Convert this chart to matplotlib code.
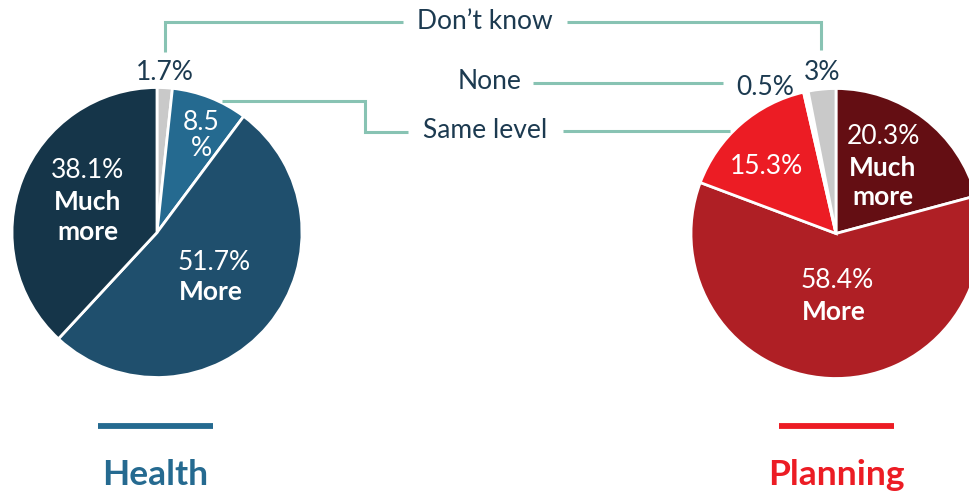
import matplotlib
matplotlib.use("Agg")
import matplotlib.pyplot as plt

# ---- data ----
categories = ["Don't know", "Same level", "More", "Much more"]
health_values = [1.7, 8.5, 51.7, 38.1]
health_labels = ["1.7%", "8.5\n%", "51.7%", "38.1%"]

planning_categories = ["Much more", "More", "Same level", "None", "Don't know"]
planning_values = [20.3, 58.4, 15.3, 0.5, 3.0]
planning_labels = ["20.3%", "58.4%", "15.3%", "0.5%", "3%"]

health_colors = ["#c9c9c9", "#256a90", "#1f4f6d", "#153549"]
planning_colors = ["#640e13", "#af1f25", "#ec1c24", "#ffffff", "#c9c9c9"]

W, H = 970, 495
plt.rcParams['font.family'] = ['Lato', 'DejaVu Sans']
fig = plt.figure(figsize=(W / 100, H / 100), dpi=100)
ax = fig.add_axes([0, 0, 1, 1])

def Y(y):
    return H - y

wp = dict(edgecolor="white", linewidth=2.0)
ax.pie(health_values, colors=health_colors, startangle=90, counterclock=False,
       center=(157, Y(232.5)), radius=145, wedgeprops=wp, normalize=True)
ax.pie(planning_values, colors=planning_colors, startangle=90, counterclock=False,
       center=(836, Y(233.5)), radius=145, wedgeprops=wp, normalize=True)

ax.set_xlim(0, W)
ax.set_ylim(0, H)
ax.set_aspect("equal")
ax.axis("off")

dark = "#1c3a50"
teal = "#88c3b3"
fs = 19

def txt(x, y, s, color="white", weight="normal", size=fs, **kw):
    ax.text(x, Y(y), s, color=color, fontsize=size, fontweight=weight,
            ha="center", va="center", **kw)

# Health labels
txt(165, 72, health_labels[0], color=dark)
txt(201, 123, "8.5")
txt(201, 148, "%")
txt(88, 170, health_labels[3])
txt(88, 202, "Much", weight="bold")
txt(88, 232, "more", weight="bold")
txt(214, 262, health_labels[2])
txt(211, 292, "More", weight="bold")

# Planning labels
txt(883, 137, planning_labels[0])
txt(883, 168, "Much", weight="bold")
txt(883, 197, "more", weight="bold")
txt(767, 167, planning_labels[2])
txt(837, 280, planning_labels[1])
txt(834, 312, "More", weight="bold")
txt(765, 87, planning_labels[3], color=dark)
txt(822, 72, planning_labels[4], color=dark)

# connectors
lw = 2.2
def line(xs, ys):
    ax.plot(xs, [Y(v) for v in ys], color=teal, lw=lw, solid_capstyle="butt",
            solid_joinstyle="miter")

line([165, 165, 403], [52, 22, 22])
line([567, 821, 821], [22, 22, 50])
txt(485, 21, "Don\u2019t know", color=dark)
line([533, 723], [83, 83])
txt(490, 81, "None", color=dark)
line([222, 365, 365, 408], [101, 101, 132, 132])
line([563, 730], [131, 131])
txt(485, 131, "Same level", color=dark)

# bottom bars and titles
ax.plot([98, 213], [Y(426.5), Y(426.5)], color="#256a90", lw=4.2, solid_capstyle="butt")
ax.plot([779, 894], [Y(426.5), Y(426.5)], color="#ec1c24", lw=4.2, solid_capstyle="butt")
txt(155, 475, "Health", color="#256a90", weight="bold", size=25.5)
txt(836, 475, "Planning", color="#ec1c24", weight="bold", size=25.5)

fig.savefig("out.png", dpi=100)
